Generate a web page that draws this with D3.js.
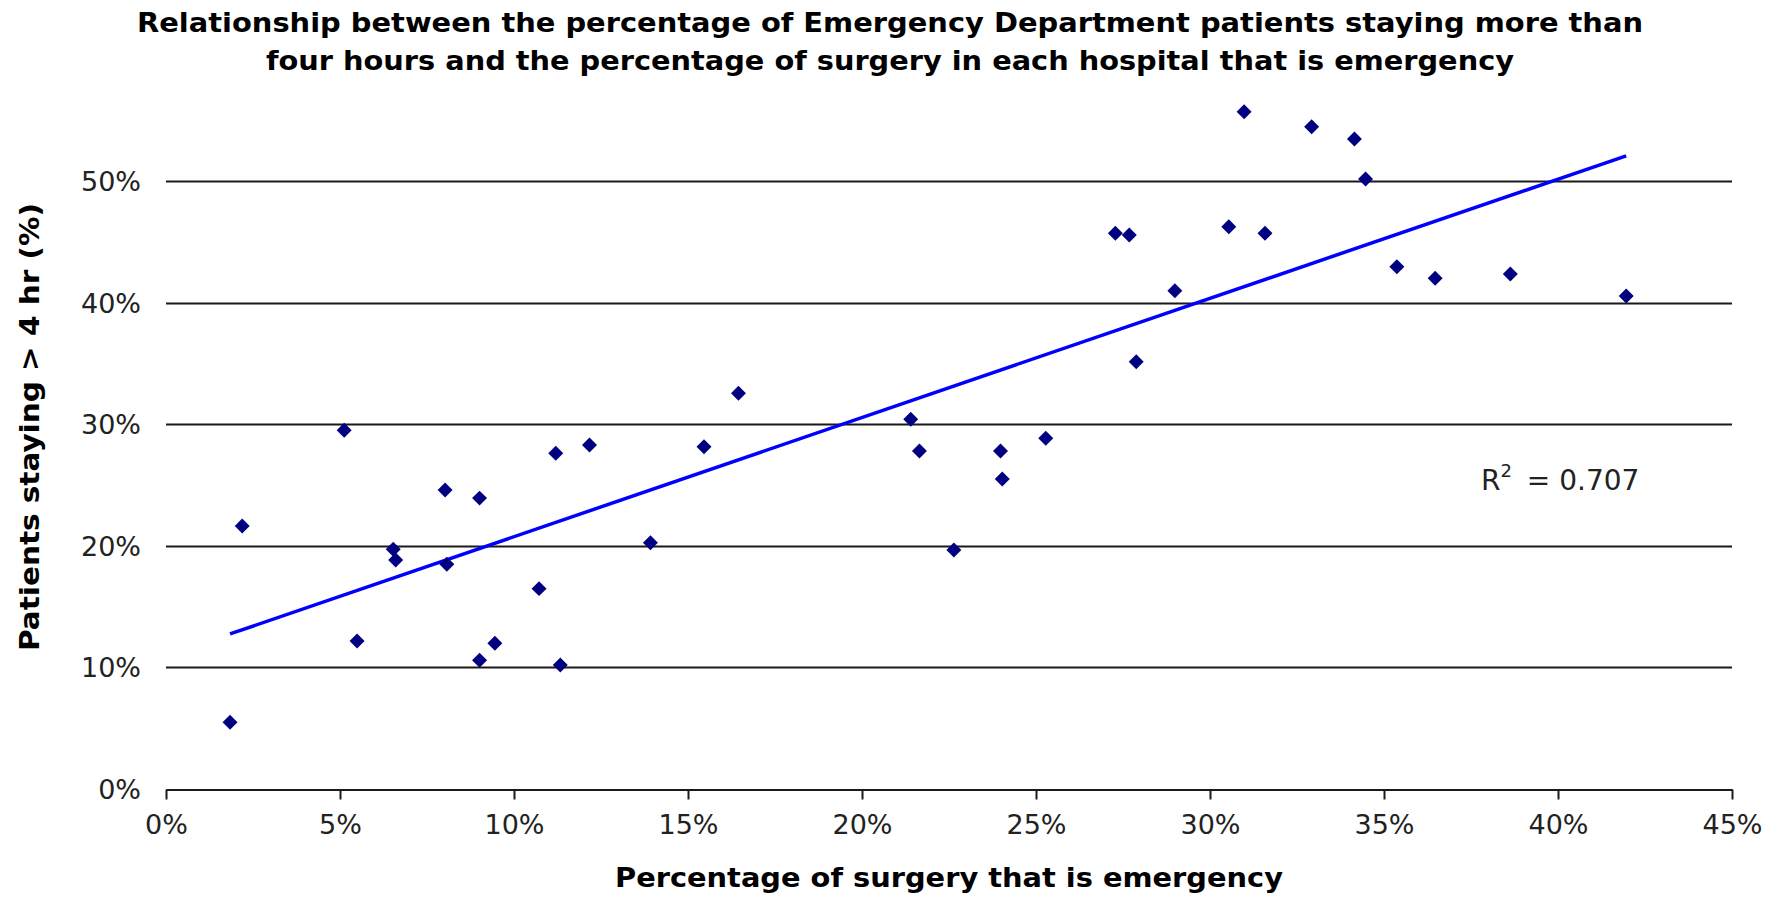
<!DOCTYPE html>
<html lang="en">
<head>
	<meta charset="utf-8">
	<title>Emergency surgery vs ED stays</title>
	<script src="https://d3js.org/d3.v7.min.js"></script>
	<style>
		body { margin: 0; background: #fff; }
		text { font-family: "DejaVu Sans", Verdana, sans-serif; }
	</style>
</head>
<body>
	<script type="text/javascript">
		// data (fractions)
		var surgeryEmergency = [0.0184, 0.0219, 0.0512, 0.0549, 0.0653, 0.0660, 0.0802, 0.0807, 0.0901, 0.0901,
			0.0945, 0.1072, 0.1120, 0.1133, 0.1217, 0.1392, 0.1546, 0.1645, 0.2140, 0.2165,
			0.2264, 0.2398, 0.2403, 0.2528, 0.2728, 0.2768, 0.2788, 0.2899, 0.3054, 0.3098,
			0.3158, 0.3292, 0.3415, 0.3447, 0.3537, 0.3647, 0.3863, 0.4196];
		var stayOver4h = [0.0545, 0.2160, 0.2948, 0.1214, 0.1970, 0.1880, 0.2457, 0.1845, 0.2390, 0.1055,
			0.1195, 0.1645, 0.2760, 0.1016, 0.2827, 0.2023, 0.2813, 0.3253, 0.3039, 0.2778,
			0.1963, 0.2778, 0.2547, 0.2882, 0.4570, 0.4555, 0.3513, 0.4097, 0.4624, 0.5570,
			0.4570, 0.5447, 0.5346, 0.5016, 0.4295, 0.4199, 0.4235, 0.4053];
		var xTicks = [0, 0.05, 0.10, 0.15, 0.20, 0.25, 0.30, 0.35, 0.40, 0.45];
		var yTicks = [0, 0.10, 0.20, 0.30, 0.40, 0.50];
		var titleLines = ["Relationship between the percentage of Emergency Department patients staying more than",
			"four hours and the percentage of surgery in each hospital that is emergency"];
		var rSquaredLabel = "0.707";

		var width = 1785;
		var height = 900;

		var svg = d3.select("body")
			.append("svg")
			.attr("width", width)
			.attr("height", height);

		svg.append("rect").attr("width", width).attr("height", height).attr("fill", "#fff");

		var x = d3.scaleLinear().domain([0, 0.45]).range([166, 1732]);
		var y = d3.scaleLinear().domain([0, 0.50]).range([788.5, 181]);
		var pct = d3.format(".0%");

		// title (Verdana is wider than DejaVu, so stretch to the original widths)
		var titleWidths = [1506, 1248];
		svg.append("g").selectAll("text")
			.data(titleLines)
			.enter().append("text")
			.attr("x", 890)
			.attr("y", function(d, i) { return 32 + i * 38; })
			.attr("text-anchor", "middle")
			.attr("font-size", 27)
			.attr("font-weight", "bold")
			.attr("fill", "#000")
			.attr("textLength", function(d, i) { return titleWidths[i]; })
			.attr("lengthAdjust", "spacingAndGlyphs")
			.text(function(d) { return d; });

		// horizontal gridlines
		svg.append("g")
			.selectAll("line")
			.data(yTicks.slice(1))
			.enter().append("line")
			.attr("x1", x.range()[0])
			.attr("x2", x.range()[1])
			.attr("y1", function(d) { return Math.round(y(d)) + 0.5; })
			.attr("y2", function(d) { return Math.round(y(d)) + 0.5; })
			.attr("stroke", "#1a1a1a")
			.attr("stroke-width", 2);

		// y labels
		svg.append("g")
			.selectAll("text")
			.data(yTicks)
			.enter().append("text")
			.attr("x", 141)
			.attr("y", function(d) { return y(d) + 10; })
			.attr("text-anchor", "end")
			.attr("font-size", 27)
			.attr("fill", "#222")
			.text(pct);

		// x axis
		var xAxis = svg.append("g")
			.attr("transform", "translate(0," + (Math.round(y(0)) + 0.5) + ")")
			.call(d3.axisBottom(x)
				.tickValues(xTicks)
				.tickSize(10)
				.tickSizeOuter(0)
				.tickFormat(pct));
		xAxis.select(".domain").attr("stroke", "#1a1a1a").attr("stroke-width", 2);
		xAxis.selectAll(".tick line").attr("stroke", "#1a1a1a").attr("stroke-width", 2);
		xAxis.selectAll(".tick text")
			.attr("y", 44)
			.attr("dy", 0)
			.attr("font-size", 27)
			.attr("font-family", "DejaVu Sans")
			.attr("fill", "#222");

		// axis titles
		svg.append("text")
			.attr("x", 949)
			.attr("y", 887)
			.attr("text-anchor", "middle")
			.attr("font-size", 27)
			.attr("font-weight", "bold")
			.attr("textLength", 668)
			.attr("lengthAdjust", "spacingAndGlyphs")
			.text("Percentage of surgery that is emergency");

		svg.append("text")
			.attr("transform", "translate(39,427) rotate(-90)")
			.attr("text-anchor", "middle")
			.attr("font-size", 27)
			.attr("font-weight", "bold")
			.attr("textLength", 448)
			.attr("lengthAdjust", "spacingAndGlyphs")
			.text("Patients staying > 4 hr (%)");

		// linear trend fitted on the points
		var mx = d3.mean(surgeryEmergency), my = d3.mean(stayOver4h);
		var sxy = d3.sum(surgeryEmergency, function(v, i) { return (v - mx) * (stayOver4h[i] - my); });
		var sxx = d3.sum(surgeryEmergency, function(v) { return (v - mx) * (v - mx); });
		var slope = sxy / sxx;
		var intercept = my - slope * mx;
		var ext = d3.extent(surgeryEmergency);

		svg.append("line")
			.attr("x1", x(ext[0]))
			.attr("y1", y(intercept + slope * ext[0]))
			.attr("x2", x(ext[1]))
			.attr("y2", y(intercept + slope * ext[1]))
			.attr("stroke", "#0000ff")
			.attr("stroke-width", 3.5);

		// diamond markers
		svg.append("g")
			.selectAll("path")
			.data(surgeryEmergency)
			.enter().append("path")
			.attr("d", d3.symbol().type(d3.symbolSquare).size(112))
			.attr("transform", function(d, i) {
				return "translate(" + x(d) + "," + y(stayOver4h[i]) + ") rotate(45)";
			})
			.attr("fill", "#000080");

		// R squared
		var r2 = svg.append("text")
			.attr("x", 1481)
			.attr("y", 490)
			.attr("font-size", 28)
			.attr("fill", "#222");
		r2.append("tspan").text("R");
		r2.append("tspan").attr("font-size", 18).attr("dy", -13).text("2");
		r2.append("tspan").attr("dy", 13).attr("dx", 6).text(" = " + rSquaredLabel);
	</script>
</body>
</html>
